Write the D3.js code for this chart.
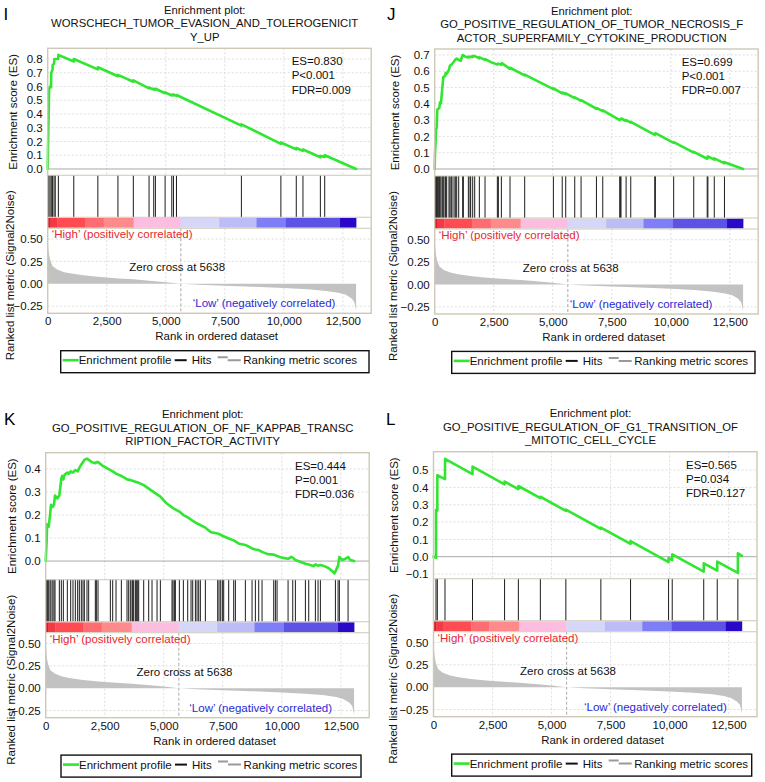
<!DOCTYPE html>
<html><head><meta charset="utf-8">
<script src="https://cdn.jsdelivr.net/npm/d3@7"></script>
<style>
body{margin:0;background:#fff;}
text{font-family:"Liberation Sans",Arial,Helvetica,sans-serif;}
</style>
</head><body>
<svg id="c" width="765" height="782"></svg>
<script>
// ---------------- DATA ----------------
const xTicks = [0, 2500, 5000, 7500, 10000, 12500];
const rankedTicks = [0.5, 0.25, 0, -0.25];
const zeroCross = 5638;

// ranked list metric (Signal2Noise), shared by all panels
const rankedRanks  = [0, 20, 50, 100, 200, 400, 700, 1000, 1500, 2000, 2500, 3000, 3640, 4300, 5000, 5638, 6400, 7500, 8700, 10000, 11000, 11800, 12300, 12600, 12850, 12980, 13040, 13060];
const rankedValues = [0.55, 0.42, 0.34, 0.27, 0.20, 0.16, 0.13, 0.115, 0.095, 0.08, 0.07, 0.06, 0.05, 0.035, 0.018, 0, -0.012, -0.022, -0.033, -0.048, -0.062, -0.08, -0.10, -0.12, -0.16, -0.20, -0.27, -0.30];

// colour bar blocks (rank breaks and colours)
const barBreaks = [0, 120, 400, 1600, 2370, 3640, 5630, 7260, 8840, 10090, 12380, 13060];
const barColors = ["#e01828", "#f23a44", "#ff4c52", "#ff6c72", "#ff8a8c", "#fdbde0", "#d6d6f8", "#bcbcf6", "#7e7ef6", "#5c52e6", "#2a08c8"];

// Panel I
const titleI = ["Enrichment plot:", "WORSCHECH_TUMOR_EVASION_AND_TOLEROGENICIT", "Y_UP"];
const statsI = ["ES=0.830", "P<0.001", "FDR=0.009"];
const esTicksI = [0, 0.1, 0.2, 0.3, 0.4, 0.5, 0.6, 0.7, 0.8];
const hitsI = [13, 45, 98, 150, 200, 268, 320, 452, 1104, 2124, 2975, 3626, 4292, 4490, 4561, 4972, 5255, 5326, 5453, 8203, 9875, 10527, 10810, 11547, 11731];
const esI = [[0,0],[13,0.15],[45,0.45],[60,0.58],[98,0.60],[140,0.595],[150,0.70],[200,0.72],[215,0.76],[268,0.765],[285,0.80],[440,0.80],[452,0.83],[1104,0.782],[1105,0.80],[2124,0.725],[2125,0.74],[2975,0.675],[2976,0.685],[3626,0.635],[3627,0.645],[4292,0.587],[4293,0.593],[4490,0.577],[4491,0.583],[4561,0.578],[4562,0.584],[4972,0.551],[4973,0.557],[5255,0.535],[5256,0.541],[5326,0.536],[5327,0.542],[5453,0.532],[5454,0.538],[8203,0.315],[8204,0.325],[9875,0.183],[9876,0.193],[10527,0.143],[10528,0.153],[10810,0.132],[10811,0.142],[11547,0.085],[11548,0.095],[11731,0.088],[11732,0.10],[13060,0]];

// Panel J
const titleJ = ["Enrichment plot:", "GO_POSITIVE_REGULATION_OF_TUMOR_NECROSIS_F", "ACTOR_SUPERFAMILY_CYTOKINE_PRODUCTION"];
const statsJ = ["ES=0.699", "P<0.001", "FDR=0.007"];
const esTicksJ = [0, 0.1, 0.2, 0.3, 0.4, 0.5, 0.6, 0.7];
const hitsJ = [13, 41, 55, 83, 112, 154, 196, 225, 267, 323, 366, 436, 465, 507, 606, 648, 700, 733, 818, 874, 931, 1016, 1185, 1213, 1426, 1496, 1524, 1609, 1694, 1891, 2131, 2653, 2696, 2823, 3190, 3811, 5026, 5400, 5549, 5931, 6199, 6849, 7117, 7837, 7860, 7890, 8106, 8303, 9320, 9345, 10120, 10970, 11540, 11570, 11840, 12271];
const esJ = [[0,0],[13,0.1],[41,0.18],[55,0.245],[83,0.25],[112,0.365],[154,0.37],[196,0.375],[225,0.41],[267,0.405],[323,0.50],[366,0.565],[436,0.57],[465,0.59],[507,0.585],[606,0.61],[648,0.635],[700,0.64],[733,0.645],[818,0.66],[874,0.672],[931,0.678],[1016,0.67],[1100,0.665],[1185,0.70],[1213,0.698],[1300,0.69],[1426,0.685],[1440,0.69],[1496,0.688],[1524,0.69],[1609,0.688],[1637,0.695],[1694,0.693],[1891,0.68],[1900,0.686],[2131,0.67],[2140,0.675],[2400,0.655],[2653,0.642],[2696,0.647],[2823,0.64],[2840,0.65],[3190,0.615],[3191,0.622],[3811,0.575],[3812,0.58],[5026,0.49],[5027,0.495],[5400,0.465],[5401,0.47],[5549,0.46],[5550,0.465],[5931,0.435],[5932,0.44],[6199,0.418],[6200,0.423],[6849,0.37],[6850,0.375],[7117,0.355],[7118,0.36],[7837,0.30],[7860,0.305],[7890,0.31],[8106,0.295],[8107,0.30],[8303,0.285],[8304,0.29],[9320,0.21],[9345,0.22],[10120,0.16],[10121,0.165],[10970,0.10],[10971,0.105],[11540,0.063],[11541,0.07],[11570,0.068],[11571,0.078],[11840,0.058],[11841,0.065],[12271,0.035],[12272,0.042],[13060,0]];

// Panel K
const titleK = ["Enrichment plot:", "GO_POSITIVE_REGULATION_OF_NF_KAPPAB_TRANSC", "RIPTION_FACTOR_ACTIVITY"];
const statsK = ["ES=0.444", "P=0.001", "FDR=0.036"];
const esTicksK = [0, 0.1, 0.2, 0.3, 0.4];
const hitsK = [41, 70, 126, 184, 225, 300, 352, 395, 578, 662, 747, 916, 1058, 1156, 1255, 1354, 1425, 1509, 1580, 1636, 1749, 1820, 2102, 2145, 2215, 2738, 2837, 2978, 3204, 3444, 3515, 3585, 3656, 3684, 3726, 3797, 3839, 3896, 3938, 4150, 4362, 4503, 4715, 4856, 5350, 5392, 5449, 5491, 5661, 5830, 6014, 6155, 6226, 6339, 6409, 6480, 6550, 6762, 7284, 7341, 7411, 7482, 7538, 7750, 7962, 8032, 8456, 8739, 8880, 9021, 9162, 9656, 9727, 9798, 10264, 10462, 10574, 10998, 11139, 11421, 11534, 11633, 12269, 12382, 12438, 12805];
const esK = [[0,0],[41,0.09],[60,0.16],[126,0.15],[184,0.20],[225,0.245],[300,0.235],[352,0.245],[395,0.285],[494,0.272],[578,0.285],[662,0.36],[700,0.37],[747,0.355],[800,0.375],[916,0.385],[980,0.38],[1058,0.39],[1156,0.385],[1255,0.395],[1354,0.39],[1425,0.405],[1509,0.42],[1580,0.43],[1636,0.44],[1749,0.445],[1820,0.44],[1950,0.43],[2102,0.425],[2145,0.43],[2215,0.43],[2400,0.415],[2738,0.395],[2837,0.39],[2978,0.38],[3204,0.37],[3444,0.355],[3585,0.352],[3797,0.345],[3938,0.34],[4150,0.33],[4362,0.315],[4503,0.305],[4715,0.29],[4856,0.28],[5126,0.25],[5392,0.23],[5661,0.215],[5830,0.2],[6014,0.19],[6226,0.175],[6480,0.16],[6762,0.145],[7000,0.125],[7284,0.12],[7482,0.11],[7750,0.098],[7962,0.09],[8200,0.075],[8456,0.07],[8739,0.055],[8880,0.05],[9021,0.048],[9162,0.04],[9400,0.03],[9656,0.028],[9798,0.022],[10000,0.015],[10264,0.01],[10400,0.018],[10462,0.015],[10574,0.005],[10774,-0.003],[10998,-0.012],[11139,-0.015],[11338,-0.022],[11421,-0.015],[11534,-0.02],[11633,-0.017],[11800,-0.022],[11974,-0.03],[12150,-0.045],[12228,-0.054],[12269,-0.045],[12382,-0.02],[12438,0.018],[12550,0.005],[12700,0.01],[12805,0.018],[12900,0.005],[13060,0]];

// Panel L
const titleL = ["Enrichment plot:", "GO_POSITIVE_REGULATION_OF_G1_TRANSITION_OF", "_MITOTIC_CELL_CYCLE"];
const statsL = ["ES=0.565", "P=0.034", "FDR=0.127"];
const esTicksL = [-0.1, 0, 0.1, 0.2, 0.3, 0.4, 0.5];
const hitsL = [106, 162, 487, 1652, 3010, 3594, 4525, 5605, 7088, 8345, 9955, 10110, 11444, 12016, 12890];
const esL = [[0,0],[106,-0.006],[107,0.27],[162,0.266],[163,0.47],[487,0.448],[488,0.565],[1652,0.477],[1653,0.52],[3010,0.418],[3011,0.433],[3594,0.39],[3595,0.408],[4525,0.338],[4526,0.346],[5605,0.265],[5606,0.272],[7088,0.16],[7089,0.168],[8345,0.074],[8346,0.09],[9955,-0.031],[9956,-0.008],[10110,-0.02],[10111,0.014],[11444,-0.086],[11445,-0.038],[12016,-0.081],[12017,-0.028],[12890,-0.093],[12891,0.02],[13060,0.005]];

// ---------------- LAYOUT ----------------
const W = 323.5, H = 265, ES_H = 127, HIT_B = 169, BAR_B = 180;
const X_MAX = 13700;
const RANK_DOMAIN = [-0.33, 0.62];
const FS = 11.5;

const panels = [
  {title:titleI, stats:statsI, esTicks:esTicksI, hits:hitsI, es:esI, esDomain:[-0.046,0.878],
   fx:47.7, fy:48.3, letter:"I", lx:3.5, ly:20, esLab:-35, rkLab:-37.7, zcX:129.5, lowX:145, lgX:13, lgW:308.3, statX:244},
  {title:titleJ, stats:statsJ, esTicks:esTicksJ, hits:hitsJ, es:esJ, esDomain:[-0.043,0.737],
   fx:434.7, fy:49, letter:"J", lx:387, ly:20, esLab:-39.7, rkLab:-42, zcX:136, lowX:135, lgX:17, lgW:303.3, statX:247},
  {title:titleK, stats:statsK, esTicks:esTicksK, hits:hitsK, es:esK, esDomain:[-0.081,0.471],
   fx:45.7, fy:452.7, letter:"K", lx:4, ly:425, esLab:-33.7, rkLab:-34.7, zcX:138.8, lowX:143.6, lgX:15.3, lgW:300, statX:249.3},
  {title:titleL, stats:statsL, esTicks:esTicksL, hits:hitsL, es:esL, esDomain:[-0.127,0.606],
   fx:433.5, fy:451.7, letter:"L", lx:386, ly:425, esLab:-40, rkLab:-41, zcX:134.5, lowX:150.5, lgX:18.2, lgW:300, statX:252.5}
];

const svg = d3.select("#c");
svg.append("rect").attr("width",765).attr("height",782).attr("fill","#fff");

function drawPanel(p){
  const g = svg.append("g");
  const x = d3.scaleLinear().domain([0, X_MAX]).range([p.fx, p.fx + W]);
  const yE = d3.scaleLinear().domain(p.esDomain).range([p.fy + ES_H, p.fy]);
  const yR = d3.scaleLinear().domain(RANK_DOMAIN).range([p.fy + H, p.fy + BAR_B]);

  // grid
  const grid = g.append("g").attr("stroke","#d6d6d6").attr("stroke-width",0.8).attr("stroke-dasharray","2,2");
  p.esTicks.filter(t => t !== 0).forEach(t => grid.append("line")
    .attr("x1",p.fx).attr("x2",p.fx+W).attr("y1",yE(t)).attr("y2",yE(t)));
  rankedTicks.filter(t => t !== 0).forEach(t => grid.append("line")
    .attr("x1",p.fx).attr("x2",p.fx+W).attr("y1",yR(t)).attr("y2",yR(t)));
  xTicks.filter(t => t > 0).forEach(t => {
    grid.append("line").attr("x1",x(t)).attr("x2",x(t)).attr("y1",p.fy).attr("y2",p.fy+ES_H);
    grid.append("line").attr("x1",x(t)).attr("x2",x(t)).attr("y1",p.fy+BAR_B).attr("y2",p.fy+H);
  });

  // ES zero line
  g.append("line").attr("x1",p.fx).attr("x2",p.fx+W).attr("y1",yE(0)).attr("y2",yE(0))
    .attr("stroke","#a8a8a8").attr("stroke-width",1);

  // ranked metric area
  g.append("path").datum(d3.zip(rankedRanks, rankedValues))
    .attr("d", d3.area().x(d => x(d[0])).y0(yR(0)).y1(d => yR(d[1])))
    .attr("fill","#c2c2c2");

  // zero cross dashed line
  g.append("line").attr("x1",x(zeroCross)).attr("x2",x(zeroCross))
    .attr("y1",p.fy+BAR_B).attr("y2",p.fy+H)
    .attr("stroke","#a0a0a0").attr("stroke-width",0.9).attr("stroke-dasharray","3,2");

  // hits
  g.append("g").selectAll("line").data(p.hits).join("line")
    .attr("x1",d => x(d)).attr("x2",d => x(d))
    .attr("y1",p.fy+ES_H).attr("y2",p.fy+HIT_B)
    .attr("stroke","#1c1c1c").attr("stroke-width",1);

  // colour bar
  g.append("g").selectAll("rect").data(d3.range(barColors.length)).join("rect")
    .attr("x",i => x(barBreaks[i]))
    .attr("width",i => x(barBreaks[i+1]) - x(barBreaks[i]) + 0.3)
    .attr("y",p.fy+HIT_B+0.6).attr("height",BAR_B-HIT_B-1.2)
    .attr("fill",i => barColors[i]);

  // ES curve
  g.append("path").datum(p.es)
    .attr("d", d3.line().x(d => x(d[0])).y(d => yE(d[1])))
    .attr("fill","none").attr("stroke","#30e630").attr("stroke-width",2.6)
    .attr("stroke-linejoin","round").attr("stroke-linecap","round");

  // frame and separators
  const fc = "#cdc9b6";
  g.append("rect").attr("x",p.fx).attr("y",p.fy).attr("width",W).attr("height",H)
    .attr("fill","none").attr("stroke",fc).attr("stroke-width",1.4);
  [ES_H, HIT_B, BAR_B].forEach(v => g.append("line")
    .attr("x1",p.fx).attr("x2",p.fx+W).attr("y1",p.fy+v).attr("y2",p.fy+v)
    .attr("stroke",fc).attr("stroke-width",1.1));

  // texts in ranked panel
  g.append("text").attr("x",p.fx+4).attr("y",p.fy+190).attr("font-size",FS)
    .attr("fill","#e6282e").text("\u2018High\u2019 (positively correlated)");
  g.append("text").attr("x",p.fx+p.zcX).attr("y",p.fy+223).attr("font-size",FS)
    .attr("text-anchor","middle").attr("fill","#111").text("Zero cross at " + zeroCross);
  g.append("text").attr("x",p.fx+p.lowX).attr("y",p.fy+259).attr("font-size",FS)
    .attr("fill","#2a2ad6").text("\u2018Low\u2019 (negatively correlated)");

  // stats
  p.stats.forEach((s,i) => g.append("text").attr("x",p.fx+p.statX).attr("y",p.fy+16.8+i*14.2)
    .attr("font-size",FS).attr("fill","#111").text(s));

  // axes
  const axE = g.append("g").attr("transform",`translate(${p.fx},0)`)
    .call(d3.axisLeft(yE).tickValues(p.esTicks).tickFormat(d3.format(".1f")).tickSize(0).tickPadding(5));
  const axR = g.append("g").attr("transform",`translate(${p.fx},0)`)
    .call(d3.axisLeft(yR).tickValues(rankedTicks).tickFormat(d3.format(".2f")).tickSize(0).tickPadding(5));
  const axX = g.append("g").attr("transform",`translate(0,${p.fy+H})`)
    .call(d3.axisBottom(x).tickValues(xTicks).tickFormat(d3.format(",")).tickSize(0).tickPadding(4));
  [axE, axR, axX].forEach(a => {
    a.select(".domain").remove();
    a.selectAll("text").attr("font-size",FS).attr("fill","#111")
      .attr("font-family","'Liberation Sans',Arial,sans-serif");
  });

  // axis titles
  g.append("text").attr("transform",`translate(${p.fx+p.esLab},${p.fy+ES_H/2}) rotate(-90)`)
    .attr("text-anchor","middle").attr("dy","0.35em").attr("font-size",FS).attr("fill","#111")
    .text("Enrichment score (ES)");
  g.append("text").attr("transform",`translate(${p.fx+p.rkLab},${p.fy+227}) rotate(-90)`)
    .attr("text-anchor","middle").attr("dy","0.35em").attr("font-size",FS).attr("fill","#111")
    .text("Ranked list metric (Signal2Noise)");
  g.append("text").attr("x",p.fx+169).attr("y",p.fy+292).attr("text-anchor","middle")
    .attr("font-size",FS).attr("fill","#111").text("Rank in ordered dataset");

  // title
  p.title.forEach((t,i) => g.append("text").attr("x",p.fx+157).attr("y",p.fy-34.5+i*13.5)
    .attr("text-anchor","middle").attr("font-size",11.3).attr("fill","#111").text(t));
  // panel letter
  g.append("text").attr("x",p.lx).attr("y",p.ly).attr("font-size",17).attr("fill","#000").text(p.letter);

  // legend
  const bx = p.fx + p.lgX, by = p.fy + 302.4, bw = p.lgW, bh = 22;
  const lg = g.append("g");
  lg.append("rect").attr("x",bx).attr("y",by).attr("width",bw).attr("height",bh)
    .attr("fill","#fff").attr("stroke","#111").attr("stroke-width",1.4);
  const cy = by + 9.5;
  lg.append("line").attr("x1",bx+2).attr("x2",bx+18).attr("y1",cy).attr("y2",cy)
    .attr("stroke","#30e630").attr("stroke-width",2.6);
  lg.append("text").attr("x",bx+18).attr("y",by+13.6).attr("font-size",FS).attr("fill","#111").text("Enrichment profile");
  lg.append("line").attr("x1",bx+114).attr("x2",bx+126).attr("y1",cy).attr("y2",cy)
    .attr("stroke","#111").attr("stroke-width",2);
  lg.append("text").attr("x",bx+131).attr("y",by+13.6).attr("font-size",FS).attr("fill","#111").text("Hits");
  lg.append("path").attr("d",`M${bx+157},${cy-3}H${bx+167}M${bx+167},${cy}H${bx+180}`)
    .attr("stroke","#9a9a9a").attr("stroke-width",2).attr("fill","none");
  lg.append("text").attr("x",bx+182.6).attr("y",by+13.6).attr("font-size",FS).attr("fill","#111").text("Ranking metric scores");
}

panels.forEach(drawPanel);
</script>
</body></html>
